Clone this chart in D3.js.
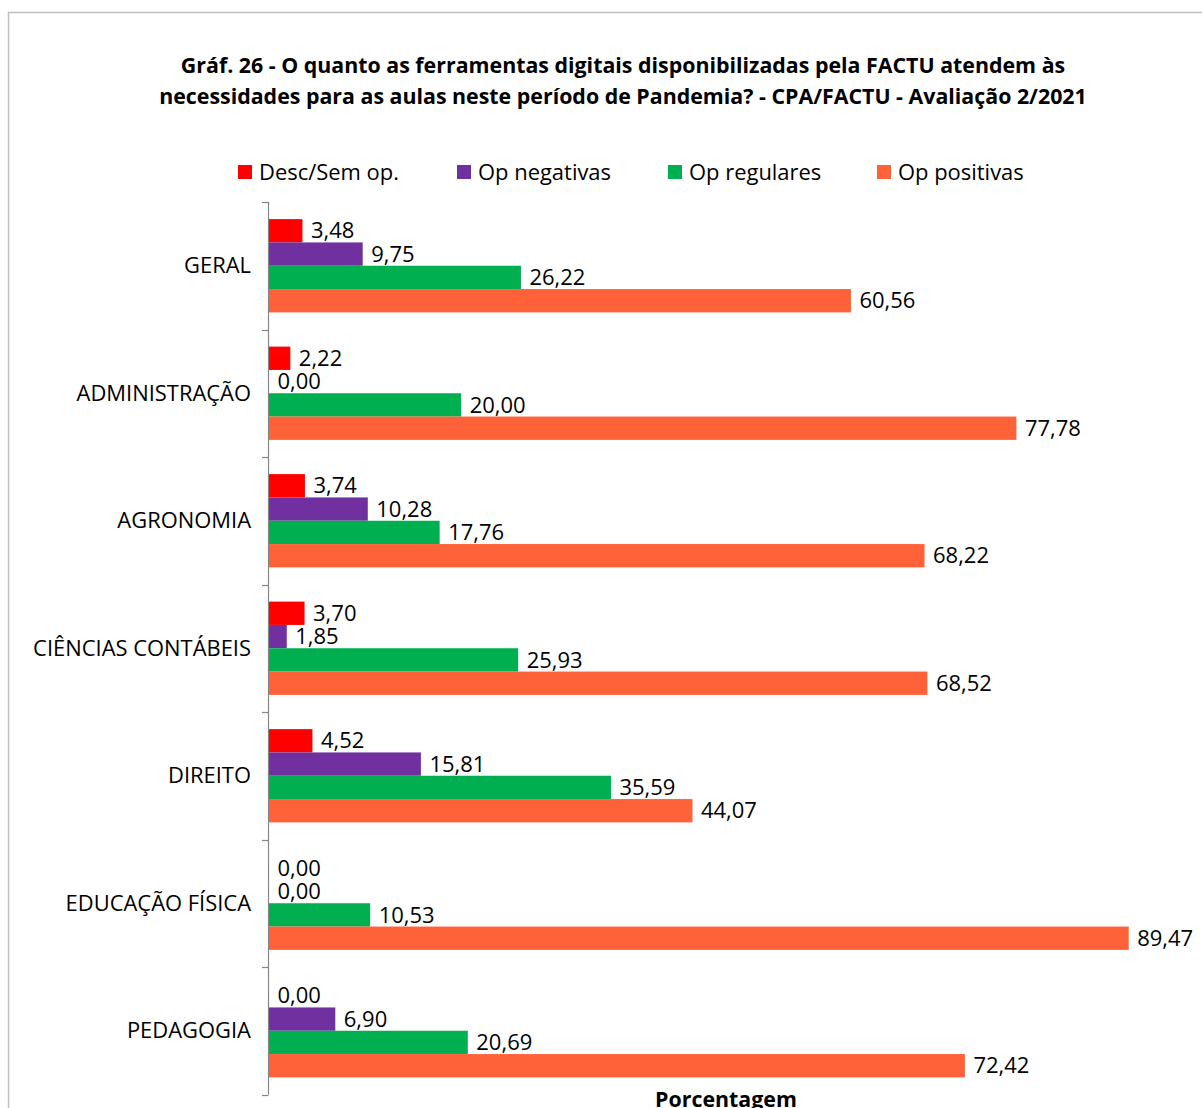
<!DOCTYPE html>
<html>
<head>
<meta charset="utf-8">
<script src="https://cdn.jsdelivr.net/npm/d3@7"></script>
<style>
  html, body { margin: 0; padding: 0; background: #fff; overflow: hidden; }
  svg { display: block; font-family: "Open Sans", "Noto Sans", sans-serif; }
</style>
</head>
<body>
<svg id="chart" width="1202" height="1108"></svg>
<script>
const titleLines = [
  "Gráf. 26 - O quanto as ferramentas digitais disponibilizadas  pela FACTU atendem às",
  "necessidades para as aulas neste período de Pandemia? - CPA/FACTU - Avaliação 2/2021"
];
const categories = ["GERAL", "ADMINISTRAÇÃO", "AGRONOMIA", "CIÊNCIAS CONTÁBEIS", "DIREITO", "EDUCAÇÃO FÍSICA", "PEDAGOGIA"];
const seriesNames = ["Desc/Sem op.", "Op negativas", "Op regulares", "Op positivas"];
const descSemOp   = [3.48, 2.22, 3.74, 3.70, 4.52, 0.00, 0.00];
const opNegativas = [9.75, 0.00, 10.28, 1.85, 15.81, 0.00, 6.90];
const opRegulares = [26.22, 20.00, 17.76, 25.93, 35.59, 10.53, 20.69];
const opPositivas = [60.56, 77.78, 68.22, 68.52, 44.07, 89.47, 72.42];
const seriesColors = ["#FF0000", "#7030A0", "#00B050", "#FF6138"];
const axisTitle = "Porcentagem";

const seriesValues = [descSemOp, opNegativas, opRegulares, opPositivas];
const svg = d3.select("#chart");

// frame
svg.append("path").attr("d", "M8.5,1108 L8.5,12.5 L1202,12.5")
  .attr("fill", "none").attr("stroke", "#BFBFBF").attr("stroke-width", 1.5);

// helper: fit font size to target width
function fitSize(str, weight, target) {
  const t = svg.append("text").attr("font-size", 100).attr("font-weight", weight).text(str);
  const w = t.node().getComputedTextLength();
  t.remove();
  return 100 * target / w;
}

// scales
const x = d3.scaleLinear().domain([0, 100]).range([269, 269 + 100 * 9.609]);
const y0 = d3.scaleBand().domain(categories).range([202, 1094.5]).paddingInner(0).paddingOuter(0);
const bw = y0.bandwidth();
const barH = bw * 0.7315 / 4;
const y1 = d3.scaleBand().domain(d3.range(4)).range([(bw - 4 * barH) / 2, (bw + 4 * barH) / 2]);

// bars
const g = svg.append("g");
categories.forEach((c, i) => {
  const cg = g.append("g").attr("transform", `translate(0,${y0(c)})`);
  seriesValues.forEach((vals, s) => {
    cg.append("rect")
      .attr("x", x(0))
      .attr("y", y1(s))
      .attr("width", Math.max(0, x(vals[i]) - x(0)))
      .attr("height", y1.bandwidth())
      .attr("fill", seriesColors[s]);
  });
});

// value labels
const valSize = fitSize("60,56", 400, 56);
categories.forEach((c, i) => {
  seriesValues.forEach((vals, s) => {
    svg.append("text")
      .attr("x", x(vals[i]) + 8.5)
      .attr("y", y0(c) + y1(s) + y1.bandwidth() / 2)
      .attr("dy", "0.35em")
      .attr("font-size", valSize)
      .attr("fill", "#000")
      .text(d3.format(".2f")(vals[i]).replace(".", ","));
  });
});

// axis
const axis = d3.axisLeft(y0).tickSize(0).tickFormat("");
const ag = svg.append("g").attr("transform", "translate(268.5,0)").call(axis);
ag.select(".domain").attr("stroke", "#868686").attr("stroke-width", 1.2).attr("d", "M0,202V1094.5");
const bounds = categories.map(c => y0(c)).concat([y0(categories[categories.length - 1]) + bw]);
bounds.forEach(b => {
  svg.append("line").attr("x1", 262).attr("x2", 268.5)
    .attr("y1", Math.round(b) + 0.5).attr("y2", Math.round(b) + 0.5)
    .attr("stroke", "#868686").attr("stroke-width", 1.2);
});

// category labels
const catSize = fitSize("CIÊNCIAS CONTÁBEIS", 400, 218);
categories.forEach(c => {
  svg.append("text")
    .attr("x", 251)
    .attr("y", y0(c) + bw / 2)
    .attr("dy", "0.35em")
    .attr("text-anchor", "end")
    .attr("font-size", catSize)
    .attr("fill", "#000")
    .text(c);
});

// title
const titleSize = fitSize(titleLines[1], 700, 928);
[[titleLines[0], 66], [titleLines[1], 97]].forEach(([t, yy]) => {
  svg.append("text")
    .attr("x", 623).attr("y", yy).attr("dy", "0.35em")
    .attr("text-anchor", "middle")
    .attr("font-size", titleSize).attr("font-weight", 700)
    .attr("fill", "#000")
    .text(t);
});

// legend
const legSize = fitSize("Desc/Sem op.", 400, 140);
const legX = [238, 457, 668, 877];
seriesNames.forEach((n, s) => {
  svg.append("rect").attr("x", legX[s]).attr("y", 165).attr("width", 14).attr("height", 14)
    .attr("fill", seriesColors[s]);
  svg.append("text").attr("x", legX[s] + 21).attr("y", 172).attr("dy", "0.35em")
    .attr("font-size", legSize).attr("fill", "#000").text(n);
});

// axis title
svg.append("text").attr("x", 726).attr("y", 1107)
  .attr("text-anchor", "middle").attr("font-size", titleSize).attr("font-weight", 700)
  .attr("fill", "#000").text(axisTitle);
</script>
</body>
</html>
